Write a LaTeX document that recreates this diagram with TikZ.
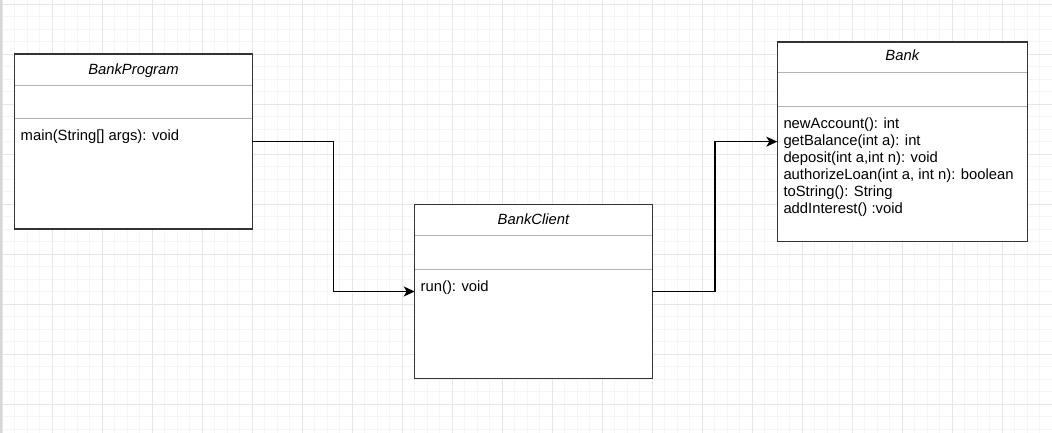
\documentclass[tikz,border=0pt]{standalone}
\usepackage{fontspec}
\setmainfont{Liberation Sans}
\usetikzlibrary{arrows.meta}
\definecolor{gridminor}{HTML}{F5F5F5}
\definecolor{gridmajor}{HTML}{E6E6E6}
\definecolor{boxline}{HTML}{333333}
\definecolor{sepline}{HTML}{B3B3B3}
\definecolor{edgeline}{HTML}{D6D6D6}
\tikzset{
  classbox/.style={draw=boxline, line width=1.1pt, fill=white, anchor=north west, inner sep=0pt, outer sep=0pt},
  sepl/.style={draw=sepline, line width=1pt},
  ctitle/.style={font=\fontsize{14.8}{17}\selectfont\itshape, anchor=base, inner sep=0pt},
  meth/.style={font=\fontsize{14.8}{17}\selectfont, anchor=base west, inner sep=0pt},
  conn/.style={draw=black, line width=1.2pt, -{Stealth[length=11pt,width=10pt,inset=3pt]}},
}
\begin{document}
\begin{tikzpicture}[x=1pt,y=-1pt]
\useasboundingbox (0,0) rectangle (1052,433);
\fill[white] (0,0) rectangle (1052,433);
% grid
\foreach \i in {0,...,84}{
  \draw[gridminor, line width=0.8pt] ({2+12.5*\i},0) -- ({2+12.5*\i},433);
}
\foreach \i in {0,...,34}{
  \draw[gridminor, line width=0.8pt] (0,{4+12.5*\i}) -- (1052,{4+12.5*\i});
}
\foreach \i in {0,...,21}{
  \draw[gridmajor, line width=0.9pt] ({2+50*\i},0) -- ({2+50*\i},433);
}
\foreach \i in {0,...,8}{
  \draw[gridmajor, line width=0.9pt] (0,{4+50*\i}) -- (1052,{4+50*\i});
}
\fill[edgeline] (0,0) rectangle (2,433);

% BankProgram
\node (bp) [classbox, minimum width=237.6pt, minimum height=175pt] at (14.7,54) {};
\draw[sepl] (bp.west |- 0,85.3) -- (bp.east |- 0,85.3);
\draw[sepl] (bp.west |- 0,119) -- (bp.east |- 0,119);
\draw[boxline, line width=1.1pt] (bp.north west) rectangle (bp.south east);
\node (bpt) [ctitle] at (133.5,74.5) {BankProgram};
\node (bpm) [meth] at (20.5,141) {main(String[] args): void};

% BankClient
\node (bc) [classbox, minimum width=237.6pt, minimum height=174.4pt] at (414.7,204.3) {};
\draw[sepl] (bc.west |- 0,235) -- (bc.east |- 0,235);
\draw[sepl] (bc.west |- 0,269) -- (bc.east |- 0,269);
\draw[boxline, line width=1.1pt] (bc.north west) rectangle (bc.south east);
\node (bct) [ctitle] at (533.5,224) {BankClient};
\node (bcm) [meth] at (420.5,291) {run(): void};

% Bank
\node (bk) [classbox, minimum width=250pt, minimum height=199.3pt] at (777.3,42) {};
\draw[sepl] (bk.west |- 0,72.7) -- (bk.east |- 0,72.7);
\draw[sepl] (bk.west |- 0,106.7) -- (bk.east |- 0,106.7);
\draw[boxline, line width=1.1pt] (bk.north west) rectangle (bk.south east);
\node (bkt) [ctitle] at (902.3,61) {Bank};
\node (bm1) [meth] at (783.3,129) {newAccount(): int};
\node (bm2) [meth] at (783.3,145.8) {getBalance(int a): int};
\node (bm3) [meth] at (783.3,162.6) {deposit(int a,int n): void};
\node (bm4) [meth] at (783.3,179.4) {authorizeLoan(int a, int n): boolean};
\node (bm5) [meth] at (783.3,196.2) {toString(): String};
\node (bm6) [meth] at (783.3,213) {addInterest() :void};

% connectors
\coordinate (k1) at (333.3,0);
\coordinate (k2) at (715,0);
\draw[conn] (bp.east) -- (bp.east -| k1) -- (bc.west -| k1) -- (bc.west);
\draw[conn] (bc.east) -- (bc.east -| k2) -- (bk.west -| k2) -- (bk.west);
\end{tikzpicture}
\end{document}
